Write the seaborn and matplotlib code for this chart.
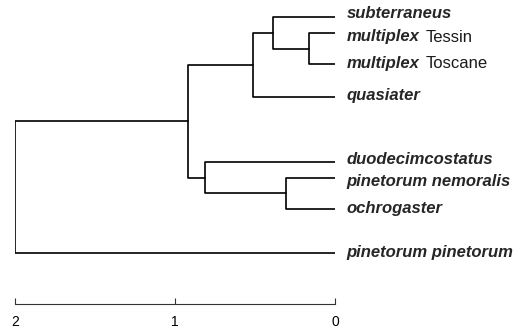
import matplotlib
matplotlib.use("Agg")
import matplotlib.pyplot as plt
import seaborn as sns
import pandas as pd

# ---- data ----
label_bold = ["subterraneus", "multiplex", "multiplex", "quasiater",
              "duodecimcostatus", "pinetorum nemoralis", "ochrogaster",
              "pinetorum pinetorum"]
label_plain = ["", "Tessin", "Toscane", "", "", "", "", ""]
leaf_y = [17, 33.3, 64.3, 96.7, 162, 177.7, 209, 252.7]
# merges: node index = 8 + i
merge_a = [1, 0, 9, 5, 4, 10, 13]
merge_b = [2, 8, 3, 6, 11, 12, 7]
merge_h = [0.16, 0.39, 0.515, 0.305, 0.81, 0.92, 2.0]
scale_ticks = [2, 1, 0]

# layout: baseline of each label (same vertical units as leaf rows)
label_baseline = [17.5, 41.5, 68.3, 100, 164.5, 186, 213, 256.5]

sns.set_theme(style="white")
plt.rcParams['font.family'] = ['Liberation Sans', 'DejaVu Sans']

# build elbow segments
n = len(leaf_y)
pos_y = list(leaf_y)
pos_h = [0.0] * n
rows = []
for i, (a, b, h) in enumerate(zip(merge_a, merge_b, merge_h)):
    ya, yb = pos_y[a], pos_y[b]
    ha, hb = pos_h[a], pos_h[b]
    for k, (x, y) in enumerate([(ha, ya), (h, ya), (h, yb), (hb, yb)]):
        rows.append({"seg": i, "k": k, "x": x, "y": y})
    pos_y.append((ya + yb) / 2)
    pos_h.append(h)
df = pd.DataFrame(rows)

W, H = 522, 332
DPI = 100
fig = plt.figure(figsize=(W / DPI, H / DPI), dpi=DPI)
x0, x1 = 14.7, 335.0
ybot = 304.3
ax = fig.add_axes([x0 / W, (H - ybot) / H, (x1 - x0) / W, ybot / H])
sns.lineplot(data=df, x="x", y="y", units="seg", estimator=None, sort=False,
             color="black", linewidth=1.2, ax=ax, legend=False)
ax.set_xlim(2, 0)
ax.set_ylim(ybot, 0)
ax.set_xlabel("")
ax.set_ylabel("")
ax.set_yticks([])
for s in ["top", "right", "left"]:
    ax.spines[s].set_visible(False)
ax.spines["bottom"].set_visible(True)
ax.spines["bottom"].set_color("#333333")
ax.spines["bottom"].set_linewidth(0.8)
ax.spines["bottom"].set_bounds(0, 2)
ax.set_xticks(scale_ticks)
ax.set_xticklabels([str(t) for t in scale_ticks])
ax.tick_params(axis="x", direction="in", length=4.5, width=0.8, color="#333333",
               pad=7.5, labelsize=10, labelcolor="black", bottom=True)
ax.set_facecolor("none")

renderer = fig.canvas.get_renderer()
for yb, lb, lp in zip(label_baseline, label_bold, label_plain):
    t = ax.annotate(lb, xy=(0, yb), xytext=(8.5, 0), textcoords="offset points",
                    fontsize=12, fontweight="bold", fontstyle="italic",
                    va="baseline", ha="left", annotation_clip=False)
    if lp:
        w_pt = t.get_window_extent(renderer).width * 72.0 / DPI
        ax.annotate(lp, xy=(0, yb), xytext=(8.5 + w_pt + 4, 0),
                    textcoords="offset points", fontsize=12,
                    va="baseline", ha="left", color="#1a1a1a",
                    annotation_clip=False)

fig.savefig("out.png", dpi=DPI)
